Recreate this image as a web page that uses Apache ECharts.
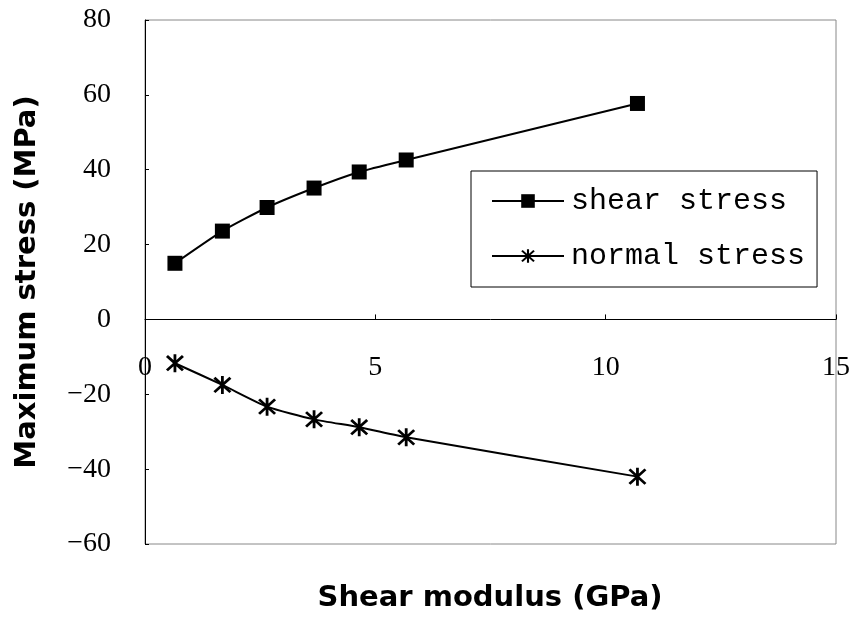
<!DOCTYPE html>
<html>
<head>
<meta charset="utf-8">
<script src="https://cdn.jsdelivr.net/npm/echarts@6/dist/echarts.min.js"></script>
<style>html,body{margin:0;padding:0;background:#fff;}#c{width:856px;height:619px;}</style>
</head>
<body>
<div id="c"></div>
<script>
// Data
const shearModulus = [0.65, 1.68, 2.65, 3.67, 4.65, 5.67, 10.69];
const shearStress = [15.0, 23.6, 29.9, 35.1, 39.4, 42.6, 57.7];
const normalStress = [-11.7, -17.5, -23.3, -26.7, -28.8, -31.5, -42.0];
const xTicks = [0, 5, 10, 15];
const yTicks = [-60, -40, -20, 0, 20, 40, 60, 80];
const seriesNames = ['shear stress', 'normal stress'];
const xTitle = 'Shear modulus (GPa)';
const yTitle = 'Maximum stress (MPa)';

const asterisk = 'path://M43 0L57 0L57 100L43 100Z M5 15L15 5L95 85L85 95Z M85 5L95 15L15 95L5 85Z';

const chart = echarts.init(document.getElementById('c'), null, {renderer: 'canvas'});
const tickFont = {fontFamily: 'Liberation Serif', fontSize: 28, color: '#000'};
const fmt = v => String(v).replace('-', '\u2212');

chart.setOption({
  animation: false,
  backgroundColor: '#fff',
  grid: {left: 145, right: 20, top: 20, bottom: 75, show: true, borderColor: '#888', borderWidth: 1, backgroundColor: 'transparent'},
  legend: {
    orient: 'vertical', left: 471, top: 171,
    padding: [15, 12, 16, 20],
    borderColor: '#000', borderWidth: 1,
    itemWidth: 72, itemHeight: 17, itemGap: 25,
    textStyle: {fontFamily: 'Liberation Mono', fontSize: 30, lineHeight: 30, color: '#000', padding: [0, 0, 0, 2]},
    data: seriesNames
  },
  xAxis: {
    type: 'value', min: xTicks[0], max: xTicks[xTicks.length - 1], interval: 5,
    axisLine: {onZero: true, lineStyle: {color: '#000', width: 1}},
    axisTick: {inside: true, length: 5, lineStyle: {color: '#000'}},
    axisLabel: Object.assign({margin: -190, formatter: fmt}, tickFont),
    splitLine: {show: false}
  },
  yAxis: {
    type: 'value', min: yTicks[0], max: yTicks[yTicks.length - 1], interval: 20,
    axisLine: {show: true, onZero: false, lineStyle: {color: '#000', width: 1}},
    axisTick: {show: true, inside: true, length: 4, lineStyle: {color: '#000'}},
    axisLabel: Object.assign({margin: 34, padding: [8, 0, 0, 0], formatter: fmt}, tickFont),
    splitLine: {show: false},
    name: yTitle, nameLocation: 'middle', nameGap: 103, nameRotate: 90,
    nameTextStyle: {fontFamily: 'DejaVu Sans', fontWeight: 'bold', fontSize: 29, color: '#000'}
  },
  graphic: [{
    type: 'text', x: 490, y: 598,
    style: {text: xTitle, align: 'center', verticalAlign: 'middle', fontFamily: 'DejaVu Sans', fontWeight: 'bold', fontSize: 29, fill: '#000'}
  }],
  series: [
    {
      name: seriesNames[0], type: 'line', smooth: 0.2,
      data: shearModulus.map((x, i) => [x, shearStress[i]]),
      symbol: 'rect', symbolSize: 15,
      lineStyle: {color: '#000', width: 2},
      itemStyle: {color: '#000'}
    },
    {
      name: seriesNames[1], type: 'line', smooth: 0.2,
      data: shearModulus.map((x, i) => [x, normalStress[i]]),
      symbol: asterisk, symbolSize: 18,
      lineStyle: {color: '#000', width: 2},
      itemStyle: {color: '#000'}
    }
  ]
});
</script>
</body>
</html>
